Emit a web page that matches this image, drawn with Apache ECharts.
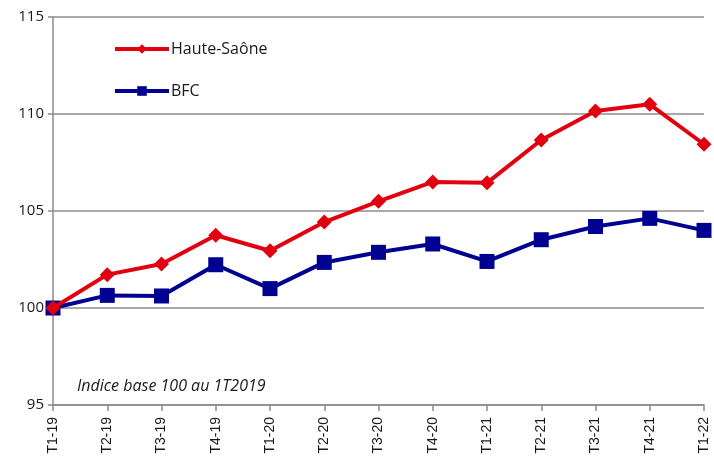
<!DOCTYPE html>
<html>
<head>
<meta charset="utf-8">
<script src="https://cdn.jsdelivr.net/npm/echarts@6/dist/echarts.min.js"></script>
<style>
  html, body { margin: 0; padding: 0; background: #fff; }
  #chart { width: 714px; height: 463px; }
</style>
</head>
<body>
<div id="chart"></div>
<script>
// trimestres
const categories = ['T1-19', 'T2-19', 'T3-19', 'T4-19', 'T1-20', 'T2-20', 'T3-20',
  'T4-20', 'T1-21', 'T2-21', 'T3-21', 'T4-21', 'T1-22'];
// indice base 100 au 1T2019
const hauteSaone = [100, 101.72, 102.27, 103.75, 102.95, 104.43, 105.5,
  106.5, 106.45, 108.66, 110.15, 110.5, 108.44];
const bfc = [100, 100.65, 100.62, 102.23, 101.0, 102.35, 102.87,
  103.3, 102.4, 103.52, 104.2, 104.62, 104.0];

const chart = echarts.init(document.getElementById('chart'), null, { renderer: 'canvas' });

const gridColor = '#8c8c8c';
const labelFont = '"Open Sans", Lato, sans-serif';

chart.setOption({
  animation: false,
  grid: { left: 53, right: 10, top: 17, bottom: 58, outerBoundsMode: 'none' },
  legend: {
    orient: 'vertical',
    left: 108,
    top: 36,
    itemWidth: 54,
    itemHeight: 12,
    itemGap: 26,
    lineStyle: { width: 4 },
    textStyle: { fontFamily: labelFont, fontSize: 16, color: '#1a1a1a', padding: [0, 0, 0, -3] },
    data: ['Haute-Saône', 'BFC']
  },
  xAxis: {
    type: 'category',
    data: categories,
    boundaryGap: false,
    axisLine: { lineStyle: { color: gridColor, width: 1.5 } },
    axisTick: { alignWithLabel: true, length: 6, lineStyle: { color: gridColor, width: 1.5 } },
    axisLabel: {
      rotate: 90,
      interval: 0,
      margin: 12,
      fontFamily: '"Liberation Sans", Arial, sans-serif',
      fontSize: 14,
      color: '#1a1a1a'
    }
  },
  yAxis: {
    type: 'value',
    min: 95,
    max: 115,
    interval: 5,
    axisLine: { show: true, lineStyle: { color: gridColor, width: 1.5 } },
    axisTick: { show: true, length: 5, lineStyle: { color: gridColor, width: 1.5 } },
    axisLabel: { fontFamily: labelFont, fontSize: 15, color: '#1a1a1a', margin: 9 },
    splitLine: { lineStyle: { color: gridColor, width: 1.5 } }
  },
  graphic: [{
    type: 'text',
    left: 77,
    top: 378,
    style: {
      text: 'Indice base 100 au 1T2019',
      fontFamily: labelFont,
      fontStyle: 'italic',
      fontSize: 16,
      fill: '#1a1a1a'
    }
  }],
  series: [
    {
      name: 'BFC',
      type: 'line',
      data: bfc,
      symbol: 'rect',
      symbolSize: 15,
      z: 2,
      lineStyle: { color: '#000091', width: 4 },
      itemStyle: { color: '#000091' }
    },
    {
      name: 'Haute-Saône',
      type: 'line',
      data: hauteSaone,
      symbol: 'diamond',
      symbolSize: 15,
      z: 3,
      lineStyle: { color: '#e1000f', width: 4 },
      itemStyle: { color: '#e1000f' }
    }
  ]
});
</script>
</body>
</html>
